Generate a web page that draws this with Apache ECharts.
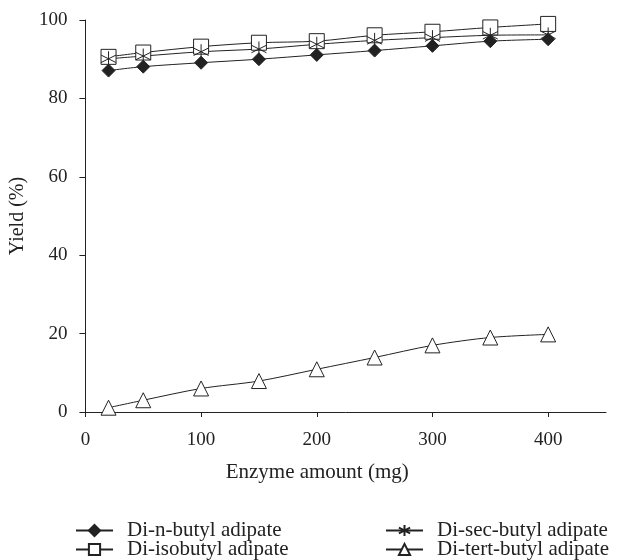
<!DOCTYPE html>
<html lang="en">
<head>
  <meta charset="UTF-8">
  <title>Yield vs enzyme amount</title>
  <script src="https://cdn.jsdelivr.net/npm/echarts@6/dist/echarts.min.js"></script>
  <style>
    body { margin: 0; background: #fff; }
  </style>
</head>
<body>
  <div id="main" style="width: 622px;height:560px;"></div>
  <script>
    // enzyme amount (mg)
    var enzyme = [20, 50, 100, 150, 200, 250, 300, 350, 400]
    // yield (%)
    var nButyl = [87.1, 88.1, 89.1, 90, 91.1, 92.2, 93.4, 94.6, 95.1]
    var isoButyl = [90.6, 91.7, 93.2, 94.2, 94.6, 96.1, 97, 98.1, 99]
    var secButyl = [90.1, 90.8, 91.9, 92.6, 93.8, 94.8, 95.5, 96.1, 96.2]
    var tertButyl = [1.1, 3, 6, 7.9, 10.9, 13.9, 17, 19, 19.8]
    var xTicks = [0, 100, 200, 300, 400]
    var yTicks = [0, 20, 40, 60, 80, 100]

    var FONT = 'Liberation Serif'
    var INK = '#222'
    var star = 'path://M0,-10 L0,10 M-8.66,-5 L8.66,5 M-8.66,5 L8.66,-5'

    function pairs(ys) {
      return enzyme.map(function (x, i) { return [x, ys[i]] })
    }

    function line(name, ys, symbol, size, fill) {
      return {
        name: name,
        type: 'line',
        smooth: 0.3,
        data: pairs(ys),
        symbol: symbol,
        symbolSize: size,
        showAllSymbol: true,
        lineStyle: { color: INK, width: 1 },
        itemStyle: { color: fill, borderColor: INK, borderWidth: 1 },
        emphasis: { disabled: true }
      }
    }

    var legendText = { fontFamily: FONT, fontSize: 21, color: INK, lineHeight: 18, padding: [0, 0, 0, 9] }

    var myChart = echarts.init(document.getElementById('main'))
    myChart.setOption({
      animation: false,
      textStyle: { fontFamily: FONT },
      grid: { left: 83, right: 16, top: 20, bottom: 148, containLabel: false },
      legend: [
        {
          data: ['Di-n-butyl adipate', 'Di-isobutyl adipate'],
          orient: 'vertical', left: 75, top: 520, height: 100, itemGap: -2, padding: 0,
          itemWidth: 37, itemHeight: 14, textStyle: legendText
        },
        {
          data: ['Di-sec-butyl adipate', 'Di-tert-butyl adipate'],
          orient: 'vertical', left: 385, top: 520, height: 100, itemGap: -2, padding: 0,
          itemWidth: 37, itemHeight: 14, textStyle: legendText
        }
      ],
      xAxis: {
        type: 'value', min: 0, max: 450, interval: 100,
        name: 'Enzyme amount (mg)', nameLocation: 'middle', nameGap: 50,
        nameTextStyle: { fontFamily: FONT, fontSize: 21, color: INK, padding: [0, 57, 0, 0] },
        axisLine: { lineStyle: { color: INK } },
        axisTick: { show: true, length: 5, lineStyle: { color: INK } },
        axisLabel: {
          fontFamily: FONT, fontSize: 19, color: INK, margin: 19, showMaxLabel: false,
          formatter: function (v) { return xTicks.indexOf(v) >= 0 ? v : '' }
        },
        splitLine: { show: false }
      },
      yAxis: {
        type: 'value', min: 0, max: 100, interval: 20,
        name: 'Yield (%)', nameLocation: 'middle', nameGap: 46,
        nameTextStyle: { fontFamily: FONT, fontSize: 20, color: INK },
        axisLine: { show: true, lineStyle: { color: INK } },
        axisTick: { show: true, length: 6, lineStyle: { color: INK } },
        axisLabel: {
          fontFamily: FONT, fontSize: 19, color: INK, margin: 18,
          formatter: function (v) { return yTicks.indexOf(v) >= 0 ? v : '' }
        },
        splitLine: { show: false }
      },
      series: [
        line('Di-n-butyl adipate', nButyl, 'diamond', 13, INK),
        line('Di-isobutyl adipate', isoButyl, 'rect', 15, '#fff'),
        line('Di-sec-butyl adipate', secButyl, star, 15, 'none'),
        line('Di-tert-butyl adipate', tertButyl, 'triangle', 15, '#fff')
      ]
    })
  </script>
</body>
</html>
